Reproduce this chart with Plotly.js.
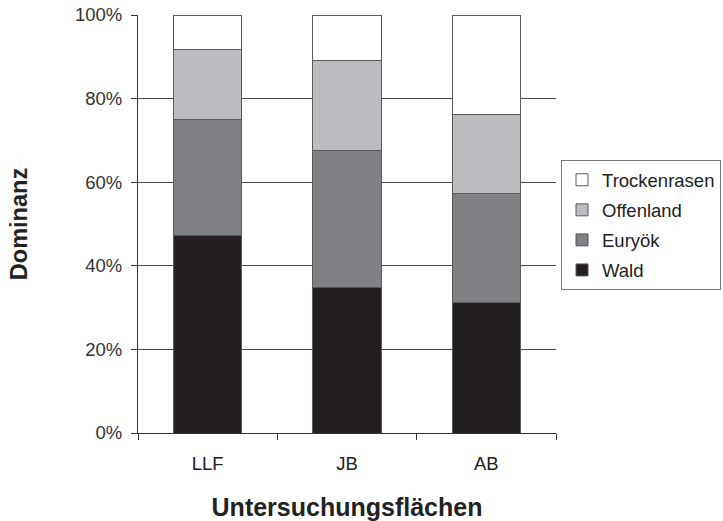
<!DOCTYPE html>
<html>
<head>
<meta charset="utf-8">
<script src="https://cdn.plot.ly/plotly-3.0.1.min.js"></script>
<style>
  html, body { margin: 0; padding: 0; background: #fff; }
  #chart { width: 723px; height: 521px; }
</style>
</head>
<body>
<div id="chart"></div>
<script>
// Study plots
const sites = ["LLF", "JB", "AB"];

// Dominance shares (%) per habitat group
const wald = [47.3, 34.9, 31.2];
const euryoek = [27.8, 32.6, 26.1];
const offenland = [16.6, 21.6, 19.0];
const trockenrasen = [8.3, 10.9, 23.7];

const groupNames = ["Wald", "Euryök", "Offenland", "Trockenrasen"];
const groupValues = [wald, euryoek, offenland, trockenrasen];
const groupColors = ["#231f20", "#808184", "#bbbcbf", "#ffffff"];

const yTicks = [0, 20, 40, 60, 80, 100];
const yTickLabels = ["0%", "20%", "40%", "60%", "80%", "100%"];

// Stacked bottom-up; legend lists the top segment first
const traces = groupNames.map((name, i) => ({
  type: "bar",
  name: name,
  legendgroup: name,
  legendrank: groupNames.length - i,
  x: sites,
  y: groupValues[i],
  marker: {
    color: groupColors[i],
    line: { color: "#5a5a5a", width: 1 }
  },
  hoverinfo: "x+y+name"
}));

const layout = {
  width: 723,
  height: 521,
  margin: { l: 138, r: 167, t: 15, b: 88, pad: 0, autoexpand: false },
  paper_bgcolor: "#ffffff",
  plot_bgcolor: "#ffffff",
  barmode: "stack",
  bargap: 0.51,
  font: { family: "Liberation Sans, Arial, sans-serif", color: "#333333", size: 18 },
  showlegend: true,
  legend: {
    x: 1.012,
    xanchor: "left",
    y: 0.497,
    yanchor: "middle",
    traceorder: "grouped",
    bordercolor: "#777777",
    borderwidth: 1,
    bgcolor: "#ffffff",
    font: { size: 18.5, color: "#222222" },
    itemwidth: 30,
    tracegroupgap: 3
  },
  xaxis: {
    type: "category",
    showgrid: false,
    showline: true,
    linecolor: "#333333",
    linewidth: 1,
    ticks: "outside",
    tickson: "boundaries",
    ticklen: 6,
    tickcolor: "#333333",
    ticklabelstandoff: 14,
    tickfont: { size: 18.5, color: "#222222" },
    title: {
      text: "Untersuchungsflächen",
      font: { size: 25, color: "#222222", weight: "bold" },
      standoff: 26
    }
  },
  yaxis: {
    range: [0, 100],
    tickvals: yTicks,
    ticktext: yTickLabels,
    showgrid: true,
    gridcolor: "#4a4a4a",
    gridwidth: 1,
    zeroline: false,
    showline: true,
    linecolor: "#333333",
    linewidth: 1,
    ticks: "outside",
    ticklen: 6,
    tickcolor: "#333333",
    ticklabelstandoff: 5,
    tickfont: { size: 18.5, color: "#333333" },
    title: {
      text: "Dominanz",
      font: { size: 23.5, color: "#222222", weight: "bold" },
      standoff: 40
    }
  }
};

Plotly.newPlot("chart", traces, layout, { displayModeBar: false, staticPlot: true });
</script>
</body>
</html>
